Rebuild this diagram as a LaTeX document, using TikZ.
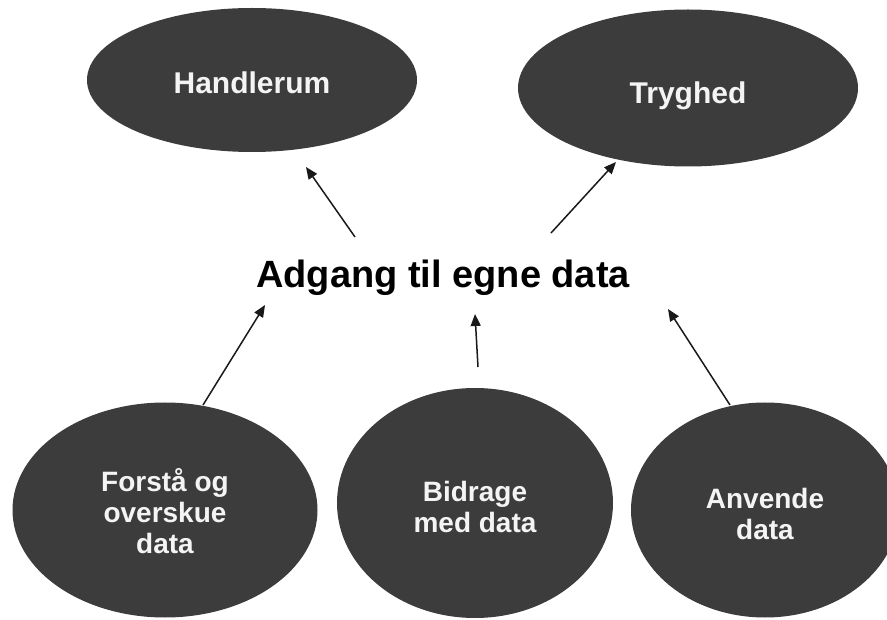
\documentclass[tikz,border=0pt]{standalone}
\usepackage{fontspec}
\setmainfont{Liberation Sans}
\usetikzlibrary{shapes.geometric,arrows.meta}
\definecolor{blobc}{HTML}{3C3C3C}
\definecolor{txtc}{HTML}{F4F4F4}
\begin{document}
\begin{tikzpicture}[x=1pt,y=-1pt,
  blob/.style={ellipse, fill=blobc, inner sep=0pt, text=txtc, align=center},
  topfont/.style={font=\fontsize{30}{33}\selectfont\bfseries},
  botfont/.style={font=\fontsize{28}{31}\selectfont\bfseries},
  arr/.style={-{Triangle[length=12pt,width=10pt]}, line width=1.5pt, draw=black!90}]
\useasboundingbox (0,0) rectangle (887,620);
\node[blob, topfont, minimum width=330pt, minimum height=144pt] (hl) at (252,80) {\rule{0pt}{28pt}Handlerum};
\node[blob, topfont, minimum width=340pt, minimum height=157pt] (ty) at (688,88) {\rule{0pt}{37pt}Tryghed};
\node[font=\fontsize{38}{44}\selectfont\bfseries, inner sep=0pt] (title) at (443,278) {Adgang til egne data};
\node[blob, botfont, minimum width=305pt, minimum height=215pt] (bl) at (165,510) {\rule{0pt}{25pt}Forstå og\\overskue\\data};
\node[blob, botfont, minimum width=276pt, minimum height=230pt] (bm) at (475,503) {\rule{0pt}{28.5pt}Bidrage\\med data};
\node[blob, botfont, minimum width=268pt, minimum height=215pt] (br) at (765,510) {\rule{0pt}{28.5pt}Anvende\\data};
\draw[arr] ([shift={(-88,-41)}]title.center) -- ([shift={(54,87)}]hl.center);
\draw[arr] ([shift={(108,-45)}]title.center) -- ([shift={(-72,74)}]ty.center);
\draw[arr] ([shift={(38,-105)}]bl.center) -- ([shift={(-178,27)}]title.center);
\draw[arr] ([shift={(3,-136)}]bm.center) -- ([shift={(32,36)}]title.center);
\draw[arr] ([shift={(-35,-105)}]br.center) -- ([shift={(225,31)}]title.center);
\end{tikzpicture}
\end{document}
